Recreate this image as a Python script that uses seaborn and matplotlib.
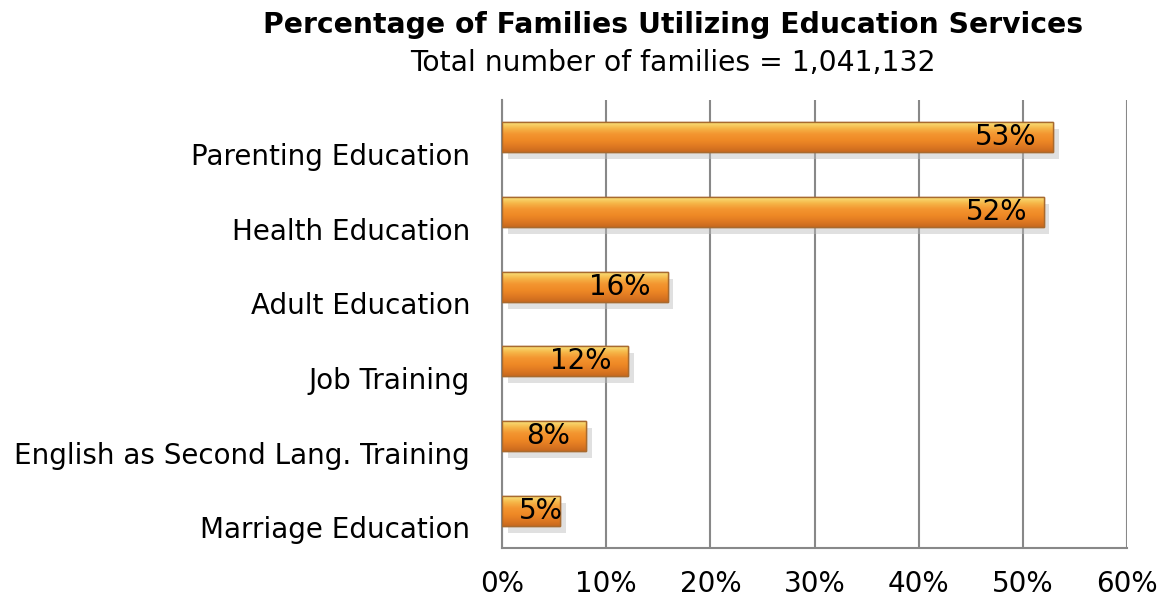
import numpy as np
import pandas as pd
import matplotlib
matplotlib.use("Agg")
import matplotlib.pyplot as plt
import matplotlib.patheffects as pe
import matplotlib.transforms as mtransforms
import seaborn as sns

# Chart data
services = [
    "Parenting Education",
    "Health Education",
    "Adult Education",
    "Job Training",
    "English as Second Lang. Training",
    "Marriage Education",
]
percent = [52.9, 52.0, 15.9, 12.1, 8.1, 5.6]
value_labels = ["53%", "52%", "16%", "12%", "8%", "5%"]
x_ticks = [0, 10, 20, 30, 40, 50, 60]

title = "Percentage of Families Utilizing Education Services"
subtitle = "Total number of families = 1,041,132"

sns.set_style("white")
plt.rcParams["font.family"] = ["DejaVu Sans"]
plt.rcParams["text.color"] = "black"
plt.rcParams["xtick.labelcolor"] = "black"
plt.rcParams["ytick.labelcolor"] = "black"

df = pd.DataFrame({"service": services, "percent": percent})

fig = plt.figure(figsize=(11.65, 6.04), dpi=100)
ax = fig.add_axes([0.4309, 0.0927, 0.5365, 0.7417])

sns.barplot(data=df, x="percent", y="service", orient="h", color="#F0882A",
            width=0.4, edgecolor="#A86A2E", linewidth=1.0, ax=ax, zorder=3)

# glossy gradient + drop shadow on each bar
cmap = matplotlib.colors.LinearSegmentedColormap.from_list(
    "gloss", ["#F9E27A", "#F6B648", "#F39530", "#EF8A26", "#E07A22", "#C8691E"])
for p in ax.patches:
    p.set_path_effects([pe.SimplePatchShadow(offset=(4, -5), shadow_rgbFace="#bbbbbb", alpha=0.45),
                        pe.Normal()])
    x0, y0 = p.get_x(), p.get_y()
    w, h = p.get_width(), p.get_height()
    im = ax.imshow(np.linspace(0, 1, 64).reshape(-1, 1), cmap=cmap, aspect="auto",
                   extent=(x0, x0 + w, y0 + h, y0), origin="upper", zorder=3.5)
    im.set_clip_path(p)
    edge = matplotlib.patches.Rectangle((x0, y0), w, h, fill=False,
                                        edgecolor="#A86A2E", linewidth=1.0, zorder=3.6)
    ax.add_patch(edge)

# value labels
for i, (v, lab) in enumerate(zip(percent, value_labels)):
    if v < 7:
        ax.annotate(lab, (0, i), xytext=(12, 0), textcoords="offset points",
                    ha="left", va="center", fontsize=20, color="black", zorder=5)
    else:
        ax.annotate(lab, (v, i), xytext=(-12, 0), textcoords="offset points",
                    ha="right", va="center", fontsize=20, color="black", zorder=5)

ax.set_xlim(0, 60)
ax.set_ylim(len(services) - 0.5, -0.5)
ax.set_xticks(x_ticks)
ax.set_xticklabels([f"{t}%" for t in x_ticks], fontsize=20)
ax.set_xlabel("")
ax.set_ylabel("")
ax.tick_params(axis="y", labelsize=20, length=0, pad=23)
ax.set_yticks(np.arange(-0.5, len(services), 1.0), minor=True)
ax.tick_params(axis="y", which="minor", length=8, width=1.5, color="#888888", direction="out")
ax.tick_params(axis="x", length=8, width=1.5, color="#888888", direction="out", pad=8)

# category labels sit a little below the bar centres
shift = mtransforms.ScaledTranslation(0, -12 / 72, fig.dpi_scale_trans)
for lbl in ax.get_yticklabels():
    lbl.set_transform(lbl.get_transform() + shift)

ax.grid(axis="x", color="#888888", linewidth=1.5, zorder=0)
ax.set_axisbelow(True)
for side in ["top", "right"]:
    ax.spines[side].set_visible(False)
for side in ["left", "bottom"]:
    ax.spines[side].set_color("#888888")
    ax.spines[side].set_linewidth(1.5)

fig.text(0.578, 0.958, title, ha="center", va="center", fontsize=20.3, fontweight="bold")
fig.text(0.578, 0.895, subtitle, ha="center", va="center", fontsize=20.3)

fig.savefig("out.png", dpi=100)
